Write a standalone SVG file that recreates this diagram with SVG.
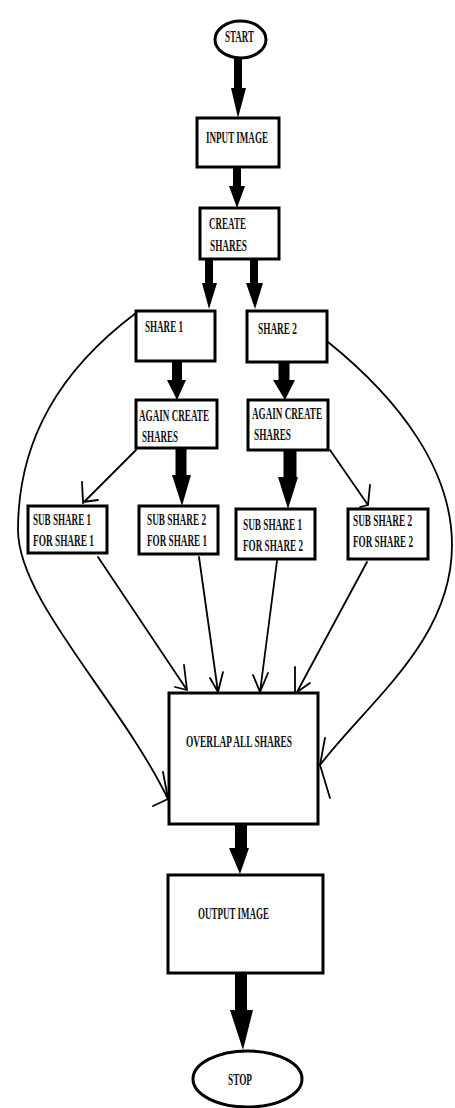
<svg xmlns="http://www.w3.org/2000/svg" width="455" height="1108" viewBox="0 0 455 1108">
<style>
.box{fill:#fff;stroke:#000;stroke-width:3}
.t{font-family:"Liberation Serif","Times New Roman",serif;font-weight:bold;font-size:16px;fill:#111}
.thin{fill:none;stroke:#000;stroke-width:1.8;stroke-linecap:round;stroke-linejoin:round}
.shaft{stroke:#000;fill:none}
.head{fill:#000;stroke:none}
</style>
<rect width="455" height="1108" fill="#fff"/>
<g id="connectors">
  <!-- thick arrows -->
  <line class="shaft" x1="238" y1="57" x2="238" y2="90" stroke-width="8"/>
  <polygon class="head" points="231,88 246,88 238,118"/>
  <line class="shaft" x1="237" y1="167" x2="237" y2="188" stroke-width="8"/>
  <polygon class="head" points="229,186 245,186 237,208"/>
  <line class="shaft" x1="209" y1="259" x2="209" y2="285" stroke-width="8"/>
  <polygon class="head" points="202,283 217,283 209,309"/>
  <line class="shaft" x1="254" y1="259" x2="254" y2="285" stroke-width="8"/>
  <polygon class="head" points="246,283 263,283 255,309"/>
  <line class="shaft" x1="177" y1="361" x2="177" y2="382" stroke-width="10"/>
  <polygon class="head" points="167,380 186,380 177,400"/>
  <line class="shaft" x1="284" y1="362" x2="284" y2="382" stroke-width="11"/>
  <polygon class="head" points="273,380 295,380 285,400"/>
  <line class="shaft" x1="181" y1="448" x2="181" y2="477" stroke-width="11"/>
  <polygon class="head" points="172,475 191,475 182,506"/>
  <line class="shaft" x1="290" y1="450" x2="290" y2="479" stroke-width="13"/>
  <polygon class="head" points="278,477 298,477 288,509"/>
  <line class="shaft" x1="241" y1="824" x2="241" y2="850" stroke-width="12"/>
  <polygon class="head" points="229,848 249,848 240,874"/>
  <line class="shaft" x1="241" y1="973" x2="241" y2="1012" stroke-width="12"/>
  <polygon class="head" points="230,1010 253,1010 243,1050"/>
  <!-- thin arrows to sub shares -->
  <path class="thin" d="M136,450 L83,503 M82,482 L83,502 L98,500"/>
  <path class="thin" d="M330,450 L368,505 M370,485 L368,505 L360,507"/>
  <!-- thin arrows into overlap -->
  <path class="thin" d="M98,557 L187,690 M184,665 L187,690 L175,687"/>
  <path class="thin" d="M199,557 L218,692 M210,678 L218,692 L223,672"/>
  <path class="thin" d="M277,561 L260,692 M253,675 L260,692 L268,673"/>
  <path class="thin" d="M367,562 L297,692 M295,667 L295,697 M310,683 L297,692"/>
  <!-- long curves -->
  <path class="thin" d="M136,313 C60,370 18,440 18,530 C18,600 120,700 168,799"/>
  <path class="thin" d="M163,772 L168,799 L153,806"/>
  <path class="thin" d="M328,342 C400,400 452,470 452,545 C452,640 370,700 320,765"/>
  <path class="thin" d="M325,738 L320,765 L330,798"/>
</g>
<g id="start">
  <ellipse cx="240.5" cy="39.5" rx="25.5" ry="18.5" fill="#fff" stroke="#000" stroke-width="3"/>
  <text class="t" x="225" y="42" textLength="29" lengthAdjust="spacingAndGlyphs">START</text>
</g>
<g id="input-image">
  <rect class="box" x="197" y="118" width="82" height="49"/>
  <text class="t" x="206" y="143" textLength="62" lengthAdjust="spacingAndGlyphs">INPUT IMAGE</text>
</g>
<g id="create-shares">
  <rect class="box" x="200" y="208" width="79" height="51"/>
  <text class="t" x="209" y="229" textLength="37" lengthAdjust="spacingAndGlyphs">CREATE</text>
  <text class="t" x="210" y="251" textLength="37" lengthAdjust="spacingAndGlyphs">SHARES</text>
</g>
<g id="share1">
  <rect class="box" x="136" y="311" width="79" height="50"/>
  <text class="t" x="145" y="332" textLength="38" lengthAdjust="spacingAndGlyphs">SHARE 1</text>
</g>
<g id="share2">
  <rect class="box" x="247" y="311" width="80" height="51"/>
  <text class="t" x="258" y="334" textLength="39" lengthAdjust="spacingAndGlyphs">SHARE 2</text>
</g>
<g id="again1">
  <rect class="box" x="136" y="400" width="81" height="48"/>
  <text class="t" x="139" y="421" textLength="70" lengthAdjust="spacingAndGlyphs">AGAIN CREATE</text>
  <text class="t" x="142" y="442" textLength="36" lengthAdjust="spacingAndGlyphs">SHARES</text>
</g>
<g id="again2">
  <rect class="box" x="248" y="400" width="80" height="50"/>
  <text class="t" x="252" y="419" textLength="70" lengthAdjust="spacingAndGlyphs">AGAIN CREATE</text>
  <text class="t" x="254" y="440" textLength="37" lengthAdjust="spacingAndGlyphs">SHARES</text>
</g>
<g id="sub1-share1">
  <rect class="box" x="28" y="506" width="79" height="47"/>
  <text class="t" x="33" y="525" textLength="58" lengthAdjust="spacingAndGlyphs">SUB SHARE 1</text>
  <text class="t" x="33" y="546" textLength="61" lengthAdjust="spacingAndGlyphs">FOR SHARE 1</text>
</g>
<g id="sub2-share1">
  <rect class="box" x="139" y="506" width="79" height="48"/>
  <text class="t" x="147" y="525" textLength="59" lengthAdjust="spacingAndGlyphs">SUB SHARE 2</text>
  <text class="t" x="147" y="546" textLength="60" lengthAdjust="spacingAndGlyphs">FOR SHARE 1</text>
</g>
<g id="sub1-share2">
  <rect class="box" x="236" y="509" width="79" height="50"/>
  <text class="t" x="243" y="530" textLength="59" lengthAdjust="spacingAndGlyphs">SUB SHARE 1</text>
  <text class="t" x="243" y="551" textLength="60" lengthAdjust="spacingAndGlyphs">FOR SHARE 2</text>
</g>
<g id="sub2-share2">
  <rect class="box" x="348" y="509" width="80" height="50"/>
  <text class="t" x="353" y="526" textLength="59" lengthAdjust="spacingAndGlyphs">SUB SHARE 2</text>
  <text class="t" x="353" y="547" textLength="60" lengthAdjust="spacingAndGlyphs">FOR SHARE 2</text>
</g>
<g id="overlap">
  <rect class="box" x="169" y="693" width="149" height="131"/>
  <text class="t" x="186" y="747" textLength="106" lengthAdjust="spacingAndGlyphs">OVERLAP ALL SHARES</text>
</g>
<g id="output-image">
  <rect class="box" x="168" y="875" width="155" height="98"/>
  <text class="t" x="198" y="919" textLength="71" lengthAdjust="spacingAndGlyphs">OUTPUT IMAGE</text>
</g>
<g id="stop">
  <ellipse cx="247.5" cy="1079" rx="54.5" ry="28" fill="#fff" stroke="#000" stroke-width="3"/>
  <text class="t" x="228" y="1085" textLength="24" lengthAdjust="spacingAndGlyphs">STOP</text>
</g>
</svg>
